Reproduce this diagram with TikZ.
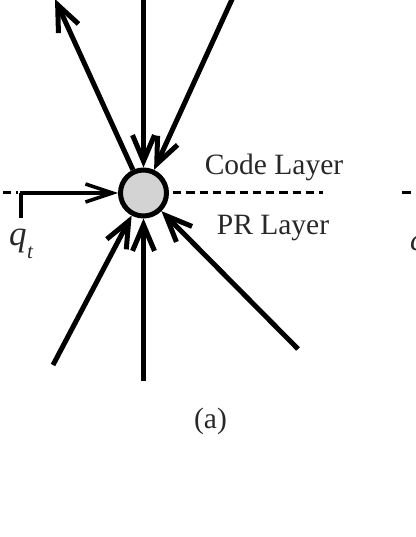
\documentclass[tikz,border=0pt]{standalone}
\usepackage{fontspec}
\setmainfont{Liberation Serif}
\usetikzlibrary{arrows.meta}
\definecolor{nodefill}{RGB}{211,211,211}
\definecolor{txt}{RGB}{40,40,40}
\begin{document}
\begin{tikzpicture}[x=1pt,y=-1pt,
  mainline/.style={line width=5pt},
  barb/.style={-{Straight Barb[length=26pt,width=22pt]}},
  dashline/.style={line width=3pt, dash pattern=on 8.3pt off 5pt},
  lbl/.style={font=\fontsize{29.5}{30}\selectfont, text=txt, inner sep=0pt}]
\useasboundingbox (0,0) rectangle (415,537);
\node[circle, draw, line width=5pt, fill=nodefill, minimum size=46pt, inner sep=0pt] (c) at (143.5,193) {};
\coordinate (tl) at (55,-1);
\coordinate (tv) at (143.5,-10);
\coordinate (tr) at (234,-5);
\coordinate (bl) at (53,365);
\coordinate (bv) at (143.5,381);
\coordinate (br) at (298,349);
\coordinate (qs) at (19.5,193);
\coordinate (qtick) at (21,218);
\coordinate (ldash) at (-10.3,193);
\coordinate (rdash) at (323,193);
\coordinate (edgea) at (402,193);
\coordinate (edgeb) at (411,193);
\draw[mainline, barb] (c) -- (tl);
\draw[mainline, barb] (tv) -- (c);
\draw[mainline, barb] (tr) -- (c);
\draw[mainline, barb] (bl) -- (c);
\draw[mainline, barb] (bv) -- (c);
\draw[mainline, barb] (br) -- (c);
\draw[line width=3.5pt, -{Straight Barb[length=27pt,width=18pt]}] (qs) -- (c);
\draw[line width=3.3pt] (21,193) -- (qtick);
\draw[dashline] (ldash) -- (18,193);
\draw[dashline, dash phase=9.3pt] (c.east) -- (rdash);
\draw[line width=3pt] (edgea) -- (edgeb);
\node[anchor=base west, inner sep=0pt, text=txt, font=\fontsize{31}{31}\selectfont\itshape] (edge) at (410,250) {c};
\node[lbl, anchor=base] (code) at (274,175) {Code Layer};
\node[lbl, anchor=base] (pr) at (273,234) {PR Layer};
\node[lbl, anchor=base] (cap) at (210.5,428) {(a)};
\node[anchor=base west, inner sep=0pt, text=txt, font=\fontsize{35}{35}\selectfont\itshape] (q) at (9,245) {q\kern0.5pt\raisebox{-13pt}{\fontsize{21}{21}\selectfont t}};
\end{tikzpicture}
\end{document}
